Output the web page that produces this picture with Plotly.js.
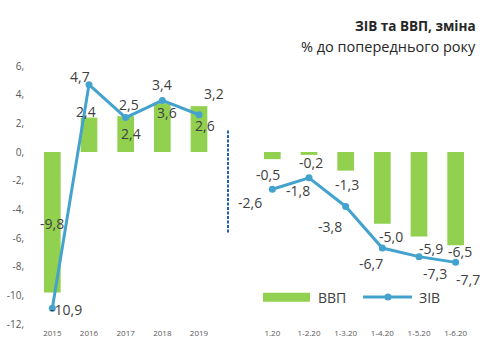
<!DOCTYPE html>
<html><head><meta charset="utf-8">
<script src="https://cdn.plot.ly/plotly-3.0.1.min.js"></script>
<style>body{margin:0;background:#fff}</style>
</head><body><div id="chart" style="width:486px;height:350px"></div>
<script>
const categories = ["2015","2016","2017","2018","2019","","1.20","1-2.20","1-3.20","1-4.20","1-5.20","1-6.20"];
const vvp = [-9.8, 2.4, 2.5, 3.4, 3.2, null, -0.5, -0.2, -1.3, -5.0, -5.9, -6.5];
const ziv = [-10.9, 4.7, 2.4, 3.6, 2.6, null, -2.6, -1.8, -3.8, -6.7, -7.3, -7.7];
const yTickVals = [6, 4, 2, 0, -2, -4, -6, -8, -10, -12];
const yTickText = ["6,", "4,", "2,", "0,", "-2,", "-4,", "-6,", "-8,", "-10,", "-12,"];
const titleLine1 = "ЗІВ та ВВП, зміна";
const titleLine2 = "% до попереднього року";
const seriesNames = ["ВВП", "ЗІВ"];

// label offsets in px (style only)
const vvpLabelShift = [[0,69],[-3,6],[3,12],[0,18.6],[15,13],null,[-4.5,-15],[2,-8],[1,-13.6],[9,-13],[12,-12],[4.5,-6]];
const zivLabelShift = [[13.5,-1],[-8.7,8.6],[5.5,-16],[5,-12.5],[6,-11],null,[-22,-13],[-11,-13],[-16,-20],[-11,-15],[16,-17],[12,-17]];

const GREEN = "#92D050", BLUE = "#44A2CF", TXT = "#404040";
const M = {l:34, r:12, t:66, b:26}, W = 486, H = 350;
const PW = W - M.l - M.r, PH = H - M.t - M.b;
const px = v => (v - M.l) / PW;
const py = v => (H - M.b - v) / PH;
const fmt = v => v.toFixed(1).replace('.', ',');
const xIdx = categories.map((c, i) => i);

const annotations = [];
function addLabels(vals, shifts) {
  vals.forEach((v, i) => {
    if (v === null) return;
    annotations.push({x: xIdx[i], y: v, xref: 'x', yref: 'y', text: fmt(v), showarrow: false,
      xanchor: 'center', yanchor: 'middle', xshift: shifts[i][0], yshift: shifts[i][1],
      font: {family: 'Open Sans', size: 14, color: TXT}});
  });
}
addLabels(vvp, vvpLabelShift);
addLabels(ziv, zivLabelShift);

annotations.push({xref:'paper', yref:'paper', x: px(478), y: py(26), xanchor:'right', yanchor:'middle',
  text: '<b>' + titleLine1 + '</b>', showarrow:false, font:{family:'Open Sans', size:13.5, color:'#262626'}});
annotations.push({xref:'paper', yref:'paper', x: px(478), y: py(46.5), xanchor:'right', yanchor:'middle',
  text: titleLine2, showarrow:false, font:{family:'Open Sans', size:14.5, color:'#262626'}});
annotations.push({xref:'paper', yref:'paper', x: px(316), y: py(297), xanchor:'left', yanchor:'middle',
  text: seriesNames[0], showarrow:false, font:{family:'Open Sans', size:14, color:TXT}});
annotations.push({xref:'paper', yref:'paper', x: px(417), y: py(297), xanchor:'left', yanchor:'middle',
  text: seriesNames[1], showarrow:false, font:{family:'Open Sans', size:14, color:TXT}});

const shapes = [
  {type:'line', xref:'x', yref:'y', x0:4.79, x1:4.79, y0:1.5, y1:-5.7, line:{color:'#1F5BB5', width:2, dash:'3px,1.5px'}},
  {type:'rect', xref:'paper', yref:'paper', x0:px(263), x1:px(310), y0:py(301.7), y1:py(292.7), fillcolor:GREEN, line:{width:0}},
  {type:'line', xref:'paper', yref:'paper', x0:px(363), x1:px(412), y0:py(297), y1:py(297), line:{color:BLUE, width:3}},
  {type:'circle', xref:'paper', yref:'paper', x0:px(384.5), x1:px(391.5), y0:py(300.5), y1:py(293.5), fillcolor:BLUE, line:{width:0}}
];

const data = [
  {type:'bar', x:xIdx, y:vvp, name:seriesNames[0], marker:{color:GREEN}, width:0.455, hoverinfo:'skip'},
  {type:'scatter', mode:'lines+markers', x:xIdx, y:ziv, name:seriesNames[1], connectgaps:false,
    line:{color:BLUE, width:3}, marker:{color:BLUE, size:7}, cliponaxis:false}
];

const layout = {
  width:W, height:H, margin:M, showlegend:false,
  paper_bgcolor:'#fff', plot_bgcolor:'#fff',
  font:{family:'Open Sans', color:TXT},
  xaxis:{range:[-0.5, 11.5], tickvals:xIdx, ticktext:categories, showgrid:false, zeroline:false, showline:false,
    ticks:'', tickfont:{size:8, color:'#595959'}, ticklabelstandoff:3, fixedrange:true},
  yaxis:{range:[-12, 6], tickvals:yTickVals, ticktext:yTickText, showgrid:false, zeroline:false, showline:false,
    ticks:'', tickfont:{size:10, color:'#595959'}, ticklabelstandoff:9, fixedrange:true},
  annotations:annotations, shapes:shapes
};
Plotly.newPlot('chart', data, layout, {displayModeBar:false, staticPlot:true});
</script></body></html>
